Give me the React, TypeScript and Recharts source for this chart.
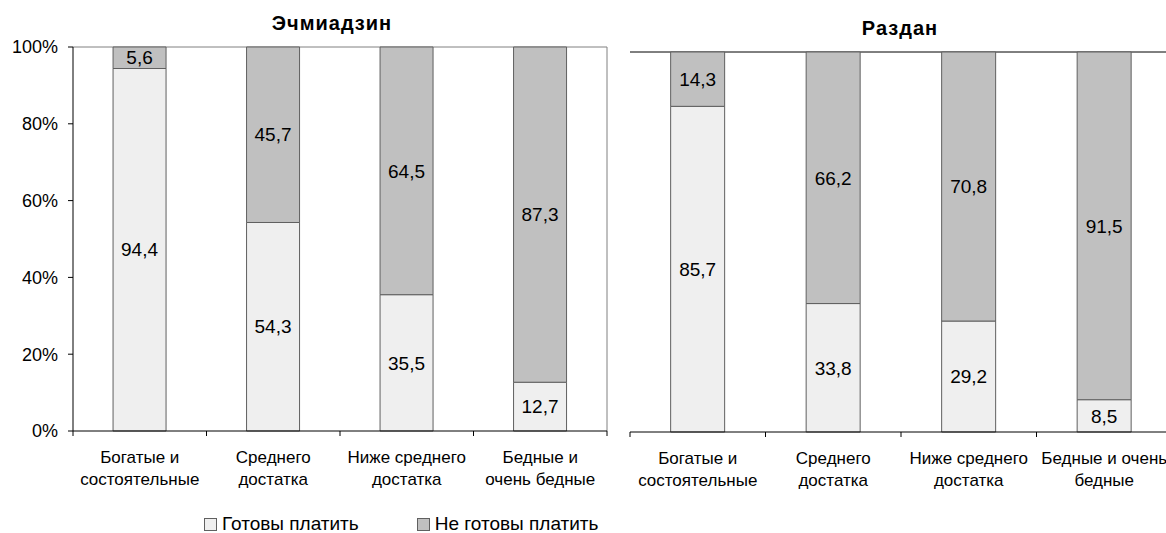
import React from "react";
import { BarChart, Bar, XAxis, YAxis, LabelList, CartesianGrid } from "recharts";

const categories = [
  "Богатые и состоятельные",
  "Среднего достатка",
  "Ниже среднего достатка",
  "Бедные и очень бедные",
];
const echmiadzinTickLines = [
  ["Богатые и", "состоятельные"],
  ["Среднего", "достатка"],
  ["Ниже среднего", "достатка"],
  ["Бедные и", "очень бедные"],
];
const razdanTickLines = [
  ["Богатые и", "состоятельные"],
  ["Среднего", "достатка"],
  ["Ниже среднего", "достатка"],
  ["Бедные и очень", "бедные"],
];
const echmiadzinReady = [94.4, 54.3, 35.5, 12.7];
const echmiadzinNotReady = [5.6, 45.7, 64.5, 87.3];
const razdanReady = [85.7, 33.8, 29.2, 8.5];
const razdanNotReady = [14.3, 66.2, 70.8, 91.5];
const percentTicks = [0, 20, 40, 60, 80, 100];
const seriesNames = ["Готовы платить", "Не готовы платить"];
const titles = ["Эчмиадзин", "Раздан"];

const READY_FILL = "#efefef";
const NOT_READY_FILL = "#c0c0c0";
const BAR_STROKE = "#606060";
const TEXT_SIZE = 17;
const NUMBER_SIZE = 19;

const toRows = (ready: number[], notReady: number[]) =>
  categories.map((name, i) => ({ name, ready: ready[i], notReady: notReady[i] }));

const commaLabel = (v: any) => Number(v).toFixed(1).replace(".", ",");

// category labels sit mid-band, tick marks go on the band edges
function CategoryTick(props: any) {
  const { x, y, index, lines, band } = props;
  const left = x - band / 2;
  const text: string[] = lines[index] || [];
  return (
    <g>
      <line x1={left} x2={left} y1={y} y2={y + 5} stroke="#000" />
      {index === lines.length - 1 && (
        <line x1={left + band} x2={left + band} y1={y} y2={y + 5} stroke="#000" />
      )}
      <text x={x} y={y + 32} textAnchor="middle" fontSize={TEXT_SIZE} fill="#000">
        {text.map((t, i) => (
          <tspan key={i} x={x} dy={i === 0 ? 0 : 22}>
            {t}
          </tspan>
        ))}
      </text>
    </g>
  );
}

interface PanelProps {
  ready: number[];
  notReady: number[];
  tickLines: string[][];
  width: number;
  margin: { top: number; right: number; bottom: number; left: number };
  showPercent: boolean;
  yAxisWidth: number;
  frameColor: string;
}

function Panel({ ready, notReady, tickLines, width, margin, showPercent, yAxisWidth, frameColor }: PanelProps) {
  const height = 533;
  const plotWidth = width - margin.left - margin.right - yAxisWidth;
  return (
    <BarChart
      width={width}
      height={height}
      data={toRows(ready, notReady)}
      margin={margin}
      barCategoryGap="30%"
    >
      {/* top and right edges of the plot frame */}
      <CartesianGrid
        stroke={frameColor}
        horizontalCoordinatesGenerator={({ offset }: any) => [offset.top]}
        verticalCoordinatesGenerator={({ offset }: any) => [offset.left + offset.width]}
      />
      <XAxis
        dataKey="name"
        interval={0}
        height={60}
        tickSize={0}
        tickMargin={0}
        tickLine={false}
        axisLine={{ stroke: "#000" }}
        tick={(p: any) => <CategoryTick {...p} lines={tickLines} band={plotWidth / 4} />}
      />
      <YAxis
        domain={[0, 100]}
        ticks={percentTicks}
        width={yAxisWidth}
        tick={showPercent ? { fill: "#000", fontSize: 18 } : false}
        tickLine={showPercent ? { stroke: "#000" } : false}
        tickSize={5}
        tickMargin={10}
        tickFormatter={(v) => `${v}%`}
        axisLine={{ stroke: "#000" }}
      />
      <Bar
        dataKey="ready"
        name={seriesNames[0]}
        stackId="a"
        fill={READY_FILL}
        stroke={BAR_STROKE}
        isAnimationActive={false}
      >
        <LabelList dataKey="ready" position="center" fill="#000" fontSize={NUMBER_SIZE} formatter={commaLabel} />
      </Bar>
      <Bar
        dataKey="notReady"
        name={seriesNames[1]}
        stackId="a"
        fill={NOT_READY_FILL}
        stroke={BAR_STROKE}
        isAnimationActive={false}
      >
        <LabelList dataKey="notReady" position="center" fill="#000" fontSize={NUMBER_SIZE} formatter={commaLabel} />
      </Bar>
    </BarChart>
  );
}

function LegendItem({ color, label }: { color: string; label: string }) {
  return (
    <span style={{ display: "inline-flex", alignItems: "center" }}>
      <span
        style={{
          display: "inline-block",
          width: 11,
          height: 11,
          background: color,
          border: `1px solid ${BAR_STROKE}`,
          marginRight: 5,
        }}
      />
      {label}
    </span>
  );
}

const titleStyle: React.CSSProperties = {
  position: "absolute",
  width: 240,
  textAlign: "center",
  fontWeight: "bold",
  fontSize: 20,
  letterSpacing: 1,
  lineHeight: "24px",
};

export default function App() {
  return (
    <div
      style={{
        position: "absolute",
        left: 0,
        top: 0,
        width: 1166,
        height: 533,
        overflow: "hidden",
        background: "#fff",
        fontFamily: "'Liberation Sans', Arial, sans-serif",
      }}
    >
      <div style={{ position: "absolute", left: 0, top: 0 }}>
        <Panel
          ready={echmiadzinReady}
          notReady={echmiadzinNotReady}
          tickLines={echmiadzinTickLines}
          width={620}
          margin={{ top: 47, right: 13, bottom: 42, left: 0 }}
          yAxisWidth={73}
          showPercent
          frameColor="#808080"
        />
      </div>
      <div style={{ position: "absolute", left: 610, top: 0 }}>
        <Panel
          ready={razdanReady}
          notReady={razdanNotReady}
          tickLines={razdanTickLines}
          width={580}
          margin={{ top: 52, right: 18, bottom: 41, left: 20 }}
          yAxisWidth={0}
          showPercent={false}
          frameColor="#000"
        />
      </div>
      <div style={{ ...titleStyle, left: 212, top: 11 }}>{titles[0]}</div>
      <div style={{ ...titleStyle, left: 780, top: 16 }}>{titles[1]}</div>
      <div
        style={{
          position: "absolute",
          left: 204,
          top: 513,
          fontSize: 19,
          lineHeight: "22px",
          display: "flex",
          gap: 58,
        }}
      >
        <LegendItem color={READY_FILL} label={seriesNames[0]} />
        <LegendItem color={NOT_READY_FILL} label={seriesNames[1]} />
      </div>
    </div>
  );
}
